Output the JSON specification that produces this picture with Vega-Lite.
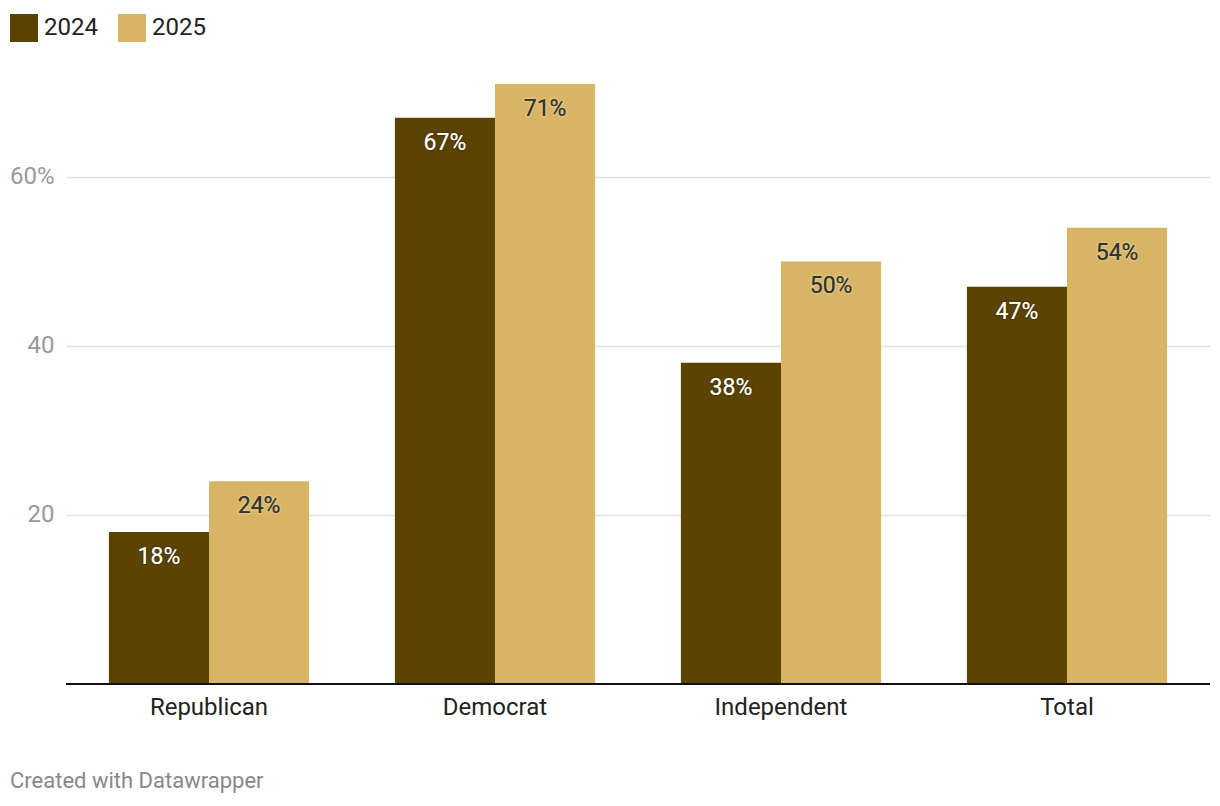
{
  "$schema": "https://vega.github.io/schema/vega-lite/v6.json",
  "width": 1144,
  "height": 600,
  "autosize": {"type": "none"},
  "padding": {"left": 66, "top": 84, "right": 10, "bottom": 122},
  "background": "#ffffff",
  "config": {
    "font": "Roboto",
    "view": {"stroke": null}
  },
  "title": {
    "text": "Created with Datawrapper",
    "orient": "bottom",
    "anchor": "start",
    "frame": "group",
    "dx": -56,
    "offset": 52,
    "fontSize": 22,
    "fontWeight": "normal",
    "color": "#888888",
    "font": "Roboto"
  },
  "data": {
    "values": [
      {"group": "Republican", "year": "2024", "value": 18},
      {"group": "Republican", "year": "2025", "value": 24},
      {"group": "Democrat", "year": "2024", "value": 67},
      {"group": "Democrat", "year": "2025", "value": 71},
      {"group": "Independent", "year": "2024", "value": 38},
      {"group": "Independent", "year": "2025", "value": 50},
      {"group": "Total", "year": "2024", "value": 47},
      {"group": "Total", "year": "2025", "value": 54}
    ]
  },
  "encoding": {
    "x": {
      "field": "group",
      "type": "nominal",
      "sort": ["Republican", "Democrat", "Independent", "Total"],
      "scale": {"paddingInner": 0.3, "paddingOuter": 0.15},
      "axis": {
        "title": null,
        "labelAngle": 0,
        "labelFontSize": 24,
        "labelColor": "#222222",
        "labelPadding": 11,
        "ticks": false,
        "domain": false
      }
    },
    "xOffset": {"field": "year", "type": "nominal", "sort": ["2024", "2025"]},
    "y": {
      "field": "value",
      "type": "quantitative",
      "scale": {"domain": [0, 71], "nice": false},
      "axis": {
        "title": null,
        "values": [20, 40, 60],
        "labelExpr": "datum.value == 60 ? '60%' : datum.label",
        "labelFontSize": 24,
        "labelColor": "#999999",
        "labelPadding": 12,
        "ticks": false,
        "domain": false,
        "gridColor": "#e3e3e3",
        "gridWidth": 1.3
      }
    }
  },
  "layer": [
    {
      "mark": {"type": "bar"},
      "encoding": {
        "color": {
          "field": "year",
          "type": "nominal",
          "scale": {"domain": ["2024", "2025"], "range": ["#5b4300", "#d8b565"]},
          "legend": {
            "title": null,
            "orient": "none",
            "legendX": -56,
            "legendY": -70,
            "direction": "horizontal",
            "symbolType": "square",
            "symbolSize": 784,
            "symbolStrokeWidth": 0,
            "labelFontSize": 24,
            "labelColor": "#222222",
            "labelOffset": 6,
            "columnPadding": 20,
            "symbolOpacity": 1
          }
        }
      }
    },
    {
      "mark": {"type": "rule", "color": "#111111", "strokeWidth": 2},
      "encoding": {"y": {"datum": 0}, "x": {"value": 0}, "x2": {"value": 1144}, "xOffset": {"value": 0}}
    },
    {
      "transform": [{"calculate": "datum.value + '%'", "as": "lbl"}],
      "mark": {"type": "text", "baseline": "alphabetic", "dy": 32, "fontSize": 23, "strokeWidth": 3, "strokeJoin": "round"},
      "encoding": {
        "text": {"field": "lbl", "type": "nominal"},
        "color": {
          "condition": {"test": "datum.year == '2024'", "value": "#ffffff"},
          "value": "#333333"
        },
        "stroke": {
          "condition": {"test": "datum.year == '2024'", "value": "#3a2a00"},
          "value": "#f0dca8"
        },
        "strokeOpacity": {"value": 0.35}
      }
    },
    {
      "transform": [{"calculate": "datum.value + '%'", "as": "lbl"}],
      "mark": {"type": "text", "baseline": "alphabetic", "dy": 32, "fontSize": 23},
      "encoding": {
        "text": {"field": "lbl", "type": "nominal"},
        "color": {
          "condition": {"test": "datum.year == '2024'", "value": "#ffffff"},
          "value": "#333333"
        }
      }
    }
  ]
}
